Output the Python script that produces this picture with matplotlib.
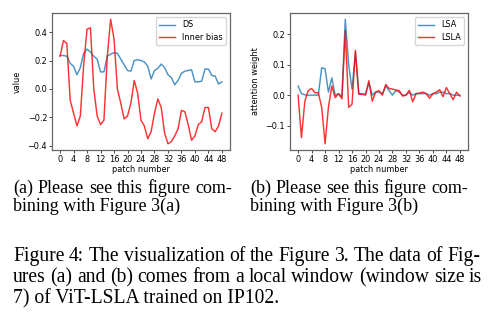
import numpy as np
import matplotlib
matplotlib.use("Agg")
import matplotlib.pyplot as plt

# 7x7 local window -> 49 patches
patches = np.arange(49)

ds = [0.235, 0.235, 0.23, 0.18, 0.16, 0.10, 0.15, 0.25, 0.28, 0.26,
      0.23, 0.21, 0.12, 0.12, 0.23, 0.245, 0.255, 0.25, 0.21, 0.17,
      0.13, 0.125, 0.20, 0.205, 0.20, 0.19, 0.16, 0.07, 0.13, 0.145,
      0.175, 0.15, 0.10, 0.08, 0.03, 0.06, 0.11, 0.125, 0.13, 0.135,
      0.05, 0.05, 0.055, 0.14, 0.14, 0.095, 0.09, 0.035, 0.05]

inner_bias = [0.23, 0.34, 0.32, -0.08, -0.17, -0.26, -0.19, 0.17, 0.42, 0.43,
              0.0, -0.19, -0.25, -0.22, 0.23, 0.49, 0.35, 0.0, -0.10, -0.21,
              -0.19, -0.10, 0.06, -0.03, -0.22, -0.26, -0.35, -0.30, -0.17, -0.07,
              -0.13, -0.31, -0.385, -0.37, -0.33, -0.28, -0.15, -0.16, -0.25, -0.36,
              -0.33, -0.25, -0.23, -0.13, -0.13, -0.28, -0.30, -0.26, -0.17]

lsa = [0.03, 0.005, 0.001, 0.0, 0.0, 0.0, 0.0, 0.09, 0.087, 0.01,
       0.057, 0.0, 0.005, -0.005, 0.25, 0.10, 0.02, 0.14, 0.005, 0.005,
       0.003, 0.04, 0.0, 0.01, 0.01, 0.005, 0.03, 0.015, 0.0, 0.015,
       0.01, 0.0, 0.0, 0.01, 0.0, 0.005, 0.005, 0.005, 0.005, 0.0,
       0.005, 0.005, 0.01, 0.01, 0.005, 0.005, 0.0, 0.0, 0.0]

lsla = [0.0, -0.14, -0.02, 0.015, 0.022, 0.008, 0.008, -0.04, -0.16, -0.04,
        0.03, -0.008, 0.005, -0.012, 0.212, -0.04, -0.03, 0.148, 0.003, 0.003,
        0.0, 0.048, -0.02, 0.01, 0.015, 0.0, 0.035, 0.022, 0.02, 0.017,
        0.015, -0.003, 0.0, 0.016, -0.022, 0.005, 0.007, 0.01, 0.005, -0.01,
        0.005, 0.01, 0.018, -0.005, 0.025, 0.005, -0.015, 0.01, -0.003]

xticks = np.arange(0, 49, 4)

W, H = 492, 323
fig = plt.figure(figsize=(W / 100, H / 100), dpi=100)
fs = 5.9
plt.rcParams['font.family'] = 'DejaVu Sans'


def setup(ax, ylabel):
    ax.set_xticks(xticks)
    ax.set_xlabel('patch number', fontsize=fs, labelpad=1)
    ax.set_ylabel(ylabel, fontsize=fs, labelpad=4)
    ax.tick_params(labelsize=fs, length=2, width=0.5, pad=1.5)
    for s in ax.spines.values():
        s.set_color('#666666')
        s.set_linewidth(0.9)
    ax.legend(fontsize=fs, loc='upper right', handlelength=2.0,
              borderpad=0.4, labelspacing=0.4, framealpha=0.8)


ax1 = fig.add_axes([52 / W, 1 - 150 / H, 178 / W, 137 / H])
ax1.plot(patches, ds, color='#1f77b4', alpha=0.8, lw=1.05, label='DS')
ax1.plot(patches, inner_bias, color='red', alpha=0.8, lw=1.05, label='Inner bias')
ax1.set_yticks([-0.4, -0.2, 0.0, 0.2, 0.4])
setup(ax1, 'value')

ax2 = fig.add_axes([290 / W, 1 - 150 / H, 178 / W, 137 / H])
ax2.plot(patches, lsa, color='#1f77b4', alpha=0.8, lw=1.05, label='LSA')
ax2.plot(patches, lsla, color='red', alpha=0.8, lw=1.05, label='LSLA')
ax2.set_yticks([-0.1, 0.0, 0.1, 0.2])
setup(ax2, 'attention weight')

# captions below the plots, set in a Times-like face
serif = 'Liberation Serif'
renderer = fig.canvas.get_renderer()


def line(text, x0, y, size, x1=None):
    """Place one caption line at pixel coords; justify to x1 if given."""
    if x1 is None:
        fig.text(x0 / W, 1 - y / H, text, family=serif, size=size,
                 ha='left', va='baseline')
        return
    words = text.split(' ')
    arts = [fig.text(0, 0, w, family=serif, size=size, ha='left', va='baseline')
            for w in words]
    widths = [a.get_window_extent(renderer).width for a in arts]
    gap = (x1 - x0 - sum(widths)) / (len(words) - 1)
    x = x0
    for a, w in zip(arts, widths):
        a.set_position((x / W, 1 - y / H))
        x += w + gap


sub = 13.0
line('(a) Please see this figure com-', 13, 193, sub, 232)
line('bining with Figure 3(a)', 13, 211, sub)
line('(b) Please see this figure com-', 250, 193, sub, 468)
line('bining with Figure 3(b)', 250, 211, sub)

cap = 14.1
line('Figure 4: The visualization of the Figure 3. The data of Fig-', 13, 261, cap, 480)
line('ures (a) and (b) comes from a local window (window size is', 13, 282, cap, 482)
line('7) of ViT-LSLA trained on IP102.', 13, 303, cap)

fig.savefig('out.png', dpi=100)
